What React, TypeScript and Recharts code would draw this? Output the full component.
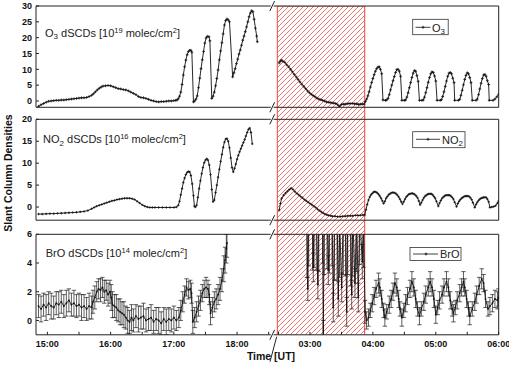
import React from 'react'
import { LineChart, Line, XAxis, YAxis, ErrorBar, AreaChart, Area, ReferenceLine } from 'recharts'

const PAGE_W = 509
const PAGE_H = 365
const FONT = 'Arial, "Liberation Sans", Helvetica, sans-serif'
const AXIS = '#222'
const HATCH = '#e8463f'

// plot frames (px)
const EVENING_COL = { left: 36, right: 268.7 }
const MORNING_COL = { left: 277.3, right: 498.7 }
const BANDS = [
  { top: 6, bottom: 107.3 },
  { top: 119.3, bottom: 220.2 },
  { top: 234.3, bottom: 334.8 },
]

// time axes, decimal hours UT
const eveningDomain = [14.82, 18.5]
const morningDomain = [2.48, 6.0]
const eveningTicks = [15, 15.5, 16, 16.5, 17, 17.5, 18, 18.5]
const morningTicks = [2.5, 3, 3.5, 4, 4.5, 5, 5.5, 6]
const blankedWindow = [2.48, 3.87]

const o3Domain = [-2, 30]
const o3Ticks = [0, 5, 10, 15, 20, 25, 30]
const no2Domain = [-3, 20]
const no2Ticks = [0, 5, 10, 15, 20]
const broDomain = [-1, 6]
const broTicks = [0, 2, 4, 6]

// O3 dSCDs [1e19 molec/cm2]
const o3EveningTime = [
  14.86, 14.9, 14.94, 14.98, 15.02, 15.06, 15.1, 15.14, 15.18, 15.22,
  15.26, 15.3, 15.34, 15.38, 15.42, 15.46, 15.5, 15.54, 15.58, 15.62,
  15.66, 15.7, 15.73, 15.76, 15.79, 15.82, 15.85, 15.88, 15.92, 15.96,
  16.0, 16.04, 16.08, 16.12, 16.16, 16.2, 16.24, 16.28, 16.32, 16.36,
  16.4, 16.44, 16.48, 16.52, 16.56, 16.6, 16.64, 16.68, 16.72, 16.76,
  16.8, 16.84, 16.88, 16.92, 16.96, 17.0, 17.03,
  17.05, 17.07, 17.09, 17.11, 17.13, 17.15, 17.17, 17.19, 17.21, 17.23,
  17.25, 17.27, 17.285, 17.31, 17.33, 17.35, 17.37, 17.39, 17.41, 17.43,
  17.45, 17.47, 17.49, 17.51, 17.53, 17.555, 17.57, 17.6, 17.62, 17.64,
  17.66, 17.68, 17.7, 17.72, 17.74, 17.76, 17.78, 17.8, 17.82, 17.84,
  17.86, 17.88, 17.93, 17.95, 17.97, 17.99, 18.01, 18.03, 18.05, 18.07,
  18.09, 18.11, 18.13, 18.15, 18.17, 18.19, 18.21, 18.23, 18.25, 18.27,
  18.29, 18.31, 18.32,
]
const o3EveningValue = [
  -1.7, -1.2, -0.8, -0.4, -0.1, 0.0, 0.1, 0.2, 0.2, 0.3,
  0.3, 0.4, 0.5, 0.6, 0.7, 0.8, 0.9, 1.0, 1.0, 1.1,
  1.4, 1.8, 2.3, 2.9, 3.5, 4.0, 4.4, 4.7, 4.8, 4.9,
  4.8, 4.5, 4.2, 3.9, 3.8, 3.6, 3.5, 3.2, 2.8, 2.4,
  2.0, 1.4, 1.1, 1.0, 0.8, 0.5, 0.2, 0.0, -0.2, -0.3,
  -0.2, -0.2, -0.1, 0.0, 0.0, 0.1, 0.2,
  0.3, 0.7, 1.5, 2.8, 5.2, 8.2, 10.8, 12.9, 14.6, 15.6,
  16.0, 16.0, 15.4, -0.3, 0.0, 0.6, 1.6, 4.2, 7.2, 10.2,
  13.0, 15.6, 18.3, 19.9, 20.4, 20.3, 19.0, 0.8, 1.5, 2.8,
  4.8, 7.1, 9.8, 13.0, 15.8, 18.4, 21.2, 24.0, 25.4, 25.9,
  25.6, 25.0, 7.6, 8.9, 10.2, 11.8, 13.2, 14.8, 16.1, 17.6,
  19.2, 20.5, 21.9, 23.4, 25.0, 26.6, 27.8, 28.5, 28.2, 25.8,
  23.0, 20.5, 18.7,
]
const o3MorningTime = [
  2.51, 2.53, 2.55, 2.57, 2.6, 2.63, 2.66, 2.69, 2.72, 2.75,
  2.78, 2.81, 2.84, 2.87, 2.9, 2.93, 2.96, 2.99, 3.02, 3.05,
  3.08, 3.11, 3.14, 3.17, 3.2, 3.23, 3.26, 3.29, 3.32, 3.35,
  3.38, 3.41, 3.44, 3.47, 3.5, 3.53, 3.56, 3.59, 3.62, 3.65,
  3.68, 3.71, 3.74, 3.77, 3.8, 3.83, 3.86,
  3.88, 3.9, 3.92, 3.94, 3.96, 3.98, 4.0, 4.02, 4.04, 4.06, 4.08, 4.1, 4.12, 4.14, 4.16, 4.2,
  4.22, 4.24, 4.26, 4.28, 4.3, 4.32, 4.34, 4.36, 4.38, 4.4, 4.42, 4.44, 4.46, 4.5,
  4.52, 4.54, 4.56, 4.58, 4.6, 4.62, 4.64, 4.66, 4.68, 4.7, 4.72, 4.74, 4.78,
  4.8, 4.82, 4.84, 4.86, 4.88, 4.9, 4.92, 4.94, 4.96, 4.98, 5.0, 5.02, 5.07,
  5.09, 5.11, 5.13, 5.15, 5.17, 5.19, 5.21, 5.23, 5.25, 5.27, 5.29, 5.3, 5.36,
  5.38, 5.4, 5.42, 5.44, 5.46, 5.48, 5.5, 5.52, 5.54, 5.56, 5.58, 5.64,
  5.66, 5.68, 5.7, 5.72, 5.74, 5.76, 5.78, 5.8, 5.82, 5.84, 5.85, 5.91,
  5.94, 5.97, 6.0,
]
const o3MorningValue = [
  12.0, 12.6, 12.9, 12.5, 12.2, 11.4, 10.8, 10.0, 9.2, 8.4,
  7.6, 6.8, 6.0, 5.3, 4.6, 3.9, 3.2, 2.6, 2.1, 1.7,
  1.3, 0.9, 0.6, 0.4, 0.2, 0.0, -0.3, -0.4, -0.5, -0.6,
  -0.7, -0.8, -1.2, -1.7, -1.1, -1.0, -1.0, -0.9, -0.8, -0.8,
  -0.8, -0.9, -0.9, -1.1, -1.0, -1.0, -1.0,
  -0.2, 0.6, 1.6, 2.9, 4.4, 5.8, 7.1, 8.3, 9.4, 10.2, 10.7, 10.8, 10.0, 8.6, 0.3, 0.2,
  0.3, 0.8, 2.0, 3.5, 5.0, 6.4, 7.7, 9.0, 9.9, 10.0, 9.4, 7.8, 0.2, 0.2,
  0.3, 1.2, 2.6, 4.2, 5.8, 7.4, 8.8, 9.6, 9.4, 8.0, 6.2, 0.2, 0.2,
  0.3, 1.2, 2.6, 4.2, 5.9, 7.4, 8.6, 9.2, 9.0, 7.9, 6.3, 0.2, 0.2,
  0.4, 1.4, 2.9, 4.6, 6.3, 7.8, 8.8, 9.0, 8.6, 7.2, 5.8, 0.2, 0.2,
  0.5, 1.8, 3.4, 5.1, 6.8, 8.1, 8.9, 8.6, 7.4, 5.8, 0.2, 0.2,
  0.6, 2.0, 3.8, 5.6, 7.1, 8.2, 8.4, 7.8, 6.4, 5.2, 0.2, 0.2,
  0.6, 1.3, 2.1,
]

// NO2 dSCDs [1e16 molec/cm2]
const no2EveningTime = [
  14.86, 14.92, 14.98, 15.04, 15.1, 15.16, 15.22, 15.28, 15.34, 15.4,
  15.46, 15.52, 15.58, 15.64, 15.7, 15.74, 15.78, 15.82, 15.86, 15.9,
  15.94, 15.98, 16.02, 16.06, 16.1, 16.14, 16.18, 16.22, 16.26, 16.3,
  16.34, 16.38, 16.42, 16.46, 16.5, 16.54, 16.58, 16.62, 16.66, 16.7,
  16.76, 16.82, 16.88, 16.94, 17.0, 17.04, 17.07, 17.09, 17.11, 17.13,
  17.15, 17.17, 17.19, 17.21, 17.23, 17.25, 17.27, 17.29, 17.31, 17.325,
  17.34, 17.36, 17.38, 17.4, 17.42, 17.44, 17.46, 17.48, 17.5, 17.52,
  17.54, 17.56, 17.58, 17.6, 17.62, 17.64, 17.66, 17.68, 17.7, 17.72,
  17.74, 17.76, 17.78, 17.8, 17.82, 17.84, 17.86, 17.88, 17.9, 17.92,
  17.94, 17.96, 17.98, 18.0, 18.02, 18.04, 18.06, 18.08, 18.1, 18.12,
  18.14, 18.16, 18.18, 18.2, 18.22, 18.24,
]
const no2EveningValue = [
  -1.6, -1.6, -1.55, -1.5, -1.5, -1.45, -1.4, -1.35, -1.3, -1.25,
  -1.2, -1.1, -1.0, -0.8, -0.4, -0.1, 0.2, 0.4, 0.6, 0.8,
  1.0, 1.2, 1.4, 1.5, 1.7, 1.8, 1.9, 2.0, 2.0, 2.0,
  1.9, 1.7, 1.3, 0.9, 0.5, 0.2, 0.0, -0.1, -0.1, -0.1,
  -0.1, -0.1, -0.1, -0.1, -0.1, 0.0, 0.4, 1.3, 2.8, 4.2,
  5.6, 6.6, 7.4, 7.9, 8.1, 8.0, 7.2, 5.3, 2.6, 0.2,
  0.0, 0.4, 2.2, 4.2, 6.0, 7.6, 9.0, 10.1, 10.7, 11.0,
  10.7, 9.6, 7.4, 4.0, 1.2, 1.6, 3.3, 5.0, 6.8, 8.6,
  10.4, 12.0, 13.6, 14.8, 15.5, 15.6, 15.0, 13.5, 11.2, 9.0,
  8.0, 8.8, 9.8, 10.9, 11.8, 12.6, 13.3, 14.0, 14.7, 15.4,
  16.2, 17.0, 17.7, 18.0, 17.0, 14.4,
]
const no2MorningTime = [
  2.51, 2.53, 2.55, 2.58, 2.61, 2.64, 2.67, 2.7, 2.73, 2.76,
  2.79, 2.82, 2.85, 2.88, 2.91, 2.94, 2.97, 3.0, 3.03, 3.06,
  3.09, 3.12, 3.15, 3.18, 3.21, 3.24, 3.27, 3.3, 3.33, 3.36,
  3.4, 3.44, 3.48, 3.52, 3.56, 3.6, 3.64, 3.68, 3.72, 3.76,
  3.8, 3.84, 3.87,
  3.89, 3.91, 3.93, 3.95, 3.97, 3.99, 4.01, 4.03, 4.05, 4.07, 4.09, 4.11, 4.13, 4.15, 4.17,
  4.19, 4.21, 4.23, 4.25, 4.27, 4.29, 4.31, 4.33, 4.35, 4.37, 4.39, 4.41, 4.43, 4.45, 4.47,
  4.49, 4.51, 4.53, 4.55, 4.57, 4.59, 4.61, 4.63, 4.65, 4.67, 4.69, 4.71, 4.73, 4.75,
  4.77, 4.79, 4.81, 4.83, 4.85, 4.87, 4.89, 4.91, 4.93, 4.95, 4.97, 4.99, 5.01, 5.04,
  5.06, 5.08, 5.1, 5.12, 5.14, 5.16, 5.18, 5.2, 5.22, 5.24, 5.26, 5.28, 5.3, 5.33,
  5.35, 5.37, 5.39, 5.41, 5.43, 5.45, 5.47, 5.49, 5.51, 5.53, 5.55, 5.57, 5.59, 5.62,
  5.64, 5.66, 5.68, 5.7, 5.72, 5.74, 5.76, 5.78, 5.8, 5.82, 5.84, 5.86,
  5.89, 5.92, 5.95, 5.98, 6.0,
]
const no2MorningValue = [
  -0.7, 0.8, 2.0, 2.7, 3.2, 3.6, 4.0, 4.3, 4.0, 3.5,
  3.1, 2.8, 2.4, 2.1, 1.7, 1.4, 1.1, 0.8, 0.5, 0.2,
  -0.1, -0.5, -0.8, -1.1, -1.4, -1.6, -1.8, -1.9, -2.0, -2.1,
  -2.1, -2.2, -2.2, -2.1, -2.1, -2.0, -2.0, -2.0, -1.9, -1.9,
  -1.9, -1.8, -1.8,
  -0.6, 0.6, 1.6, 2.3, 2.8, 3.1, 3.4, 3.5, 3.4, 3.2, 2.9, 2.5, 2.0, 1.4, 0.8,
  1.3, 2.0, 2.4, 2.8, 3.0, 3.2, 3.3, 3.3, 3.2, 3.0, 2.7, 2.3, 1.8, 1.2, 0.7,
  1.2, 1.8, 2.3, 2.6, 2.9, 3.0, 3.1, 3.1, 3.0, 2.8, 2.5, 2.1, 1.4, 0.5,
  1.0, 1.6, 2.1, 2.5, 2.7, 2.9, 3.0, 3.0, 3.0, 2.8, 2.4, 2.0, 1.3, 0.2,
  0.9, 1.5, 2.0, 2.3, 2.5, 2.7, 2.7, 2.7, 2.7, 2.5, 2.2, 1.8, 1.1, 0.1,
  0.8, 1.3, 1.7, 2.0, 2.2, 2.4, 2.5, 2.5, 2.5, 2.4, 2.1, 1.7, 1.0, -0.1,
  0.6, 1.1, 1.5, 1.8, 2.0, 2.1, 2.2, 2.2, 2.2, 1.8, 1.2, -0.1,
  0.0, 0.1, 0.3, 0.9, 1.4,
]

// BrO dSCDs [1e14 molec/cm2] with fit errors
const broEveningTime = [
  14.86, 14.9, 14.94, 14.98, 15.02, 15.06, 15.1, 15.14, 15.18, 15.22,
  15.26, 15.3, 15.34, 15.38, 15.42, 15.46, 15.5, 15.54, 15.58, 15.62,
  15.66, 15.7, 15.72, 15.75, 15.78, 15.81, 15.84, 15.87, 15.9, 15.93,
  15.96, 15.99, 16.01, 16.03, 16.06, 16.09, 16.12, 16.15, 16.18, 16.21,
  16.24, 16.27, 16.3, 16.33, 16.36, 16.4, 16.44, 16.48, 16.52, 16.56,
  16.6, 16.64, 16.68, 16.72, 16.76, 16.8, 16.84, 16.88, 16.92, 16.96,
  17.0, 17.04, 17.08, 17.11, 17.14, 17.17, 17.2, 17.23, 17.26, 17.28,
  17.3, 17.33, 17.36, 17.39, 17.42, 17.45, 17.48, 17.51, 17.54, 17.56,
  17.58, 17.61, 17.64, 17.67, 17.7, 17.73, 17.76, 17.79, 17.81, 17.83,
  17.84,
]
const broEveningValue = [
  1.0, 0.8, 1.1, 0.9, 1.2, 1.0, 0.9, 1.2, 1.1, 1.3,
  1.0, 1.2, 1.4, 1.1, 1.2, 1.0, 1.1, 0.9, 1.0, 0.8,
  1.0, 0.9, 1.3, 1.6, 2.0, 2.2, 2.1, 2.3, 2.0, 2.1,
  1.8, 2.0, 1.6, 1.1, 1.0, 0.9, 0.7, 0.6, 0.5, 0.4,
  0.2, 0.0, -0.1, 0.2, 0.0, 0.3, 0.1, 0.2, 0.3, 0.0,
  0.1, 0.2, -0.1, 0.1, 0.0, -0.2, 0.1, -0.1, 0.1, 0.0,
  0.2, 0.0, 0.2, 0.7, 1.3, 1.8, 2.3, 2.1, 2.2, 1.9,
  -0.1, 0.2, 0.6, 1.0, 1.4, 1.9, 2.2, 2.3, 2.2, 1.8,
  0.5, 0.9, 1.3, 1.5, 1.8, 2.2, 2.8, 3.6, 4.2, 5.0,
  5.4,
]
const broEveningError = [
  0.8, 0.9, 0.8, 0.9, 0.8, 0.9, 0.8, 0.8, 0.9, 0.8,
  0.8, 0.9, 0.8, 0.8, 0.9, 0.8, 0.8, 0.9, 0.8, 0.8,
  0.9, 0.8, 0.8, 0.8, 0.7, 0.7, 0.8, 0.7, 0.8, 0.7,
  0.8, 0.8, 0.9, 0.9, 0.8, 0.9, 0.8, 0.9, 0.8, 0.9,
  0.8, 0.9, 0.8, 0.9, 0.8, 0.8, 0.9, 0.8, 0.9, 0.8,
  0.8, 0.9, 0.8, 0.8, 0.9, 0.8, 0.8, 0.9, 0.8, 0.8,
  0.8, 0.7, 0.7, 0.7, 0.7, 0.6, 0.6, 0.6, 0.6, 0.7,
  0.8, 0.7, 0.7, 0.7, 0.7, 0.6, 0.6, 0.7, 0.6, 0.7,
  0.8, 0.7, 0.7, 0.7, 0.7, 0.8, 0.8, 0.9, 0.9, 1.0,
  1.0,
]
const broMorningTime = [
  2.95, 2.965, 2.98, 3.04, 3.052, 3.065, 3.1, 3.125, 3.14, 3.2,
  3.211, 3.225, 3.27, 3.291, 3.31, 3.35, 3.37, 3.39, 3.43, 3.45,
  3.47, 3.504, 3.53, 3.565, 3.583, 3.6, 3.645, 3.663, 3.68, 3.715,
  3.74, 3.768, 3.79, 3.831, 3.85, 3.875,
  3.9, 3.93, 3.96, 3.99, 4.02, 4.05, 4.09, 4.11, 4.14, 4.17,
  4.19, 4.22, 4.26, 4.29, 4.32, 4.35, 4.38, 4.41, 4.43, 4.46,
  4.49, 4.52, 4.55, 4.59, 4.62, 4.65, 4.68, 4.71, 4.74, 4.77,
  4.81, 4.84, 4.88, 4.91, 4.94, 4.97, 5.0, 5.03, 5.06, 5.1,
  5.13, 5.17, 5.2, 5.23, 5.26, 5.28, 5.31, 5.34, 5.38, 5.41,
  5.44, 5.46, 5.49, 5.52, 5.54, 5.58, 5.62, 5.65, 5.69, 5.73,
  5.76, 5.79, 5.83, 5.86, 5.9, 5.94, 5.98, 5.995,
]
const broMorningValue = [
  7.5, 2.2, 7.8, 7.0, 3.7, 7.5, 8.0, 2.5, 7.6, 7.0,
  -1.5, 7.2, 8.0, 3.5, 7.5, 7.8, 0.9, 7.4, 7.6, 1.5,
  7.0, 2.3, 7.7, 7.3, 0.6, 7.8, 7.2, 1.8, 7.5, 2.6,
  7.4, 1.6, 7.5, 4.1, 7.2, 0.6,
  0.0, 0.2, 0.7, 1.2, 1.7, 2.2, 2.6, 2.3, 1.5, 0.7,
  0.2, 0.6, 1.1, 1.5, 2.0, 2.6, 2.3, 1.5, 0.8, 0.2,
  0.7, 1.2, 1.7, 2.2, 2.7, 2.3, 1.5, 0.8, 0.3, 0.8,
  1.3, 1.8, 2.3, 2.7, 2.3, 1.5, 0.4, 0.9, 1.4, 1.8,
  2.3, 2.7, 2.3, 1.4, 0.8, 0.5, 0.9, 1.4, 1.9, 2.3,
  2.7, 2.3, 1.5, 0.8, 0.3, 0.8, 1.3, 1.8, 2.4, 2.9,
  2.6, 1.5, 0.8, 1.0, 1.2, 1.5, 1.4, 1.6,
]
const broMorningError = [
  4.5, 0.8, 4.0, 3.5, 1.0, 3.8, 4.5, 1.0, 4.2, 3.0,
  1.5, 4.0, 4.4, 1.0, 4.2, 4.0, 1.0, 4.6, 4.8, 1.2,
  4.0, 1.0, 4.5, 4.2, 1.0, 4.6, 4.8, 1.0, 4.4, 1.0,
  4.0, 1.0, 3.6, 1.2, 3.5, 0.8,
  0.6, 0.6, 0.5, 0.6, 0.6, 0.6, 0.7, 0.6, 0.6, 0.5,
  0.6, 0.5, 0.6, 0.6, 0.6, 0.7, 0.6, 0.6, 0.5, 0.6,
  0.5, 0.6, 0.6, 0.6, 0.7, 0.6, 0.6, 0.5, 0.6, 0.5,
  0.6, 0.6, 0.6, 0.7, 0.6, 0.6, 0.6, 0.5, 0.6, 0.6,
  0.6, 0.7, 0.6, 0.6, 0.5, 0.6, 0.5, 0.6, 0.6, 0.6,
  0.7, 0.6, 0.6, 0.5, 0.6, 0.5, 0.6, 0.6, 0.6, 0.7,
  0.6, 0.6, 0.5, 0.6, 0.6, 0.6, 0.6, 0.6,
]

type Row = { t: number; v: number; e?: number }
const rows = (time: number[], value: number[], err?: number[]): Row[] =>
  time.map((t, i) => ({ t, v: value[i], e: err ? err[i] : undefined }))

const clock = (h: number) =>
  Number.isInteger(h) ? `${String(h).padStart(2, '0')}:00` : ''

const tickFont = { fontSize: 9, fontWeight: 700, fill: '#111', fontFamily: FONT }

// small "+" marker used by all series
const plus = (size: number) => (p: any) => {
  const { cx, cy, index } = p
  if (cx == null || cy == null) return <g key={index} />
  return (
    <path
      key={index}
      d={`M${cx - size},${cy}h${size * 2}M${cx},${cy - size}v${size * 2}`}
      stroke="#111"
      strokeWidth={0.8}
      fill="none"
    />
  )
}

type Col = { left: number; right: number }
type Band = { top: number; bottom: number }

type PanelProps = {
  col: Col
  band: Band
  xDomain: number[]
  xTicks: number[]
  yDomain: number[]
  yTicks: number[]
  side: 'left' | 'right'
  showTime: boolean
  data: Row[]
  withErrors?: boolean
  markerSize: number
}

const layer: React.CSSProperties = { position: 'absolute', left: 0, top: 0, width: PAGE_W, height: PAGE_H }

function Panel(props: PanelProps) {
  const { col, band, xDomain, xTicks, yDomain, yTicks, side, showTime, data, withErrors, markerSize } = props
  // axes take 1px each, so the margins stop 1px short of the plot frame
  const frameMargin = {
    top: band.top - 1,
    bottom: PAGE_H - band.bottom - 1,
    left: side === 'left' ? col.left - 1 : col.left,
    right: side === 'right' ? PAGE_W - col.right - 1 : PAGE_W - col.right,
  }
  const plotMargin = {
    top: band.top,
    bottom: PAGE_H - band.bottom,
    left: col.left,
    right: PAGE_W - col.right,
  }
  const clip = `inset(${band.top}px ${PAGE_W - col.right}px ${PAGE_H - band.bottom}px ${col.left}px)`
  return (
    <>
      {/* frame: axis lines, inward ticks and labels */}
      <div style={layer}>
        <LineChart width={PAGE_W} height={PAGE_H} data={data} margin={frameMargin}>
          <XAxis
            dataKey="t"
            type="number"
            domain={xDomain}
            ticks={xTicks}
            interval={0}
            allowDataOverflow
            height={1}
            stroke={AXIS}
            tickSize={-3}
            tickMargin={9}
            tick={showTime ? tickFont : false}
            tickFormatter={clock}
          />
          <XAxis
            xAxisId="top"
            orientation="top"
            dataKey="t"
            type="number"
            domain={xDomain}
            ticks={xTicks}
            interval={0}
            allowDataOverflow
            height={1}
            stroke={AXIS}
            tickSize={-3}
            tick={false}
          />
          <YAxis
            type="number"
            orientation={side}
            domain={yDomain}
            ticks={yTicks}
            interval={0}
            allowDataOverflow
            width={1}
            stroke={AXIS}
            tickSize={-3}
            tickMargin={7}
            tick={side === 'left' ? tickFont : false}
          />
          <Line dataKey="v" stroke="none" dot={false} isAnimationActive={false} />
        </LineChart>
      </div>
      {/* series, clipped to the plot frame */}
      <div style={{ ...layer, clipPath: clip }}>
        <LineChart width={PAGE_W} height={PAGE_H} data={data} margin={plotMargin}>
          <XAxis dataKey="t" type="number" domain={xDomain} allowDataOverflow hide />
          <YAxis type="number" domain={yDomain} allowDataOverflow hide />
          <Line
            dataKey="v"
            type="linear"
            stroke="#111"
            strokeWidth={0.9}
            dot={plus(markerSize)}
            isAnimationActive={false}
          >
            {withErrors && (
              <ErrorBar
                dataKey="e"
                direction="y"
                width={2.2}
                stroke="#1c1c1c"
                strokeWidth={0.7}
                isAnimationActive={false}
              />
            )}
          </Line>
        </LineChart>
      </div>
    </>
  )
}

const blankedRows = blankedWindow.map((t) => ({ t, y: 1 }))

// hatched window spanning all three morning panels
function BlankedWindow() {
  return (
    <div style={layer}>
      <AreaChart
        width={PAGE_W}
        height={PAGE_H}
        data={blankedRows}
        margin={{
          top: BANDS[0].top,
          bottom: PAGE_H - BANDS[2].bottom,
          left: MORNING_COL.left,
          right: PAGE_W - MORNING_COL.right,
        }}
      >
        <XAxis dataKey="t" type="number" domain={morningDomain} allowDataOverflow hide />
        <YAxis type="number" domain={[0, 1]} allowDataOverflow hide />
        <Area
          dataKey="y"
          type="linear"
          baseValue={0}
          fill="url(#hatch)"
          fillOpacity={1}
          stroke={HATCH}
          strokeWidth={1}
          isAnimationActive={false}
        />
        <ReferenceLine x={blankedWindow[0]} stroke={HATCH} strokeWidth={1} />
        <ReferenceLine x={blankedWindow[1]} stroke={HATCH} strokeWidth={1} />
      </AreaChart>
    </div>
  )
}

function Sub({ children }: { children: string }) {
  return <tspan dy={2.5} fontSize={8}>{children}</tspan>
}

function Decorations() {
  const axisYs = BANDS.flatMap((b) => [b.top, b.bottom])
  return (
    <svg
      width={PAGE_W}
      height={PAGE_H}
      style={{ position: 'absolute', left: 0, top: 0, pointerEvents: 'none' }}
      fontFamily={FONT}
    >
      <defs>
        <pattern id="hatch" patternUnits="userSpaceOnUse" width={5} height={5}>
          <path d="M-1,1 l2,-2 M0,5 l5,-5 M4,6 l2,-2" stroke={HATCH} strokeWidth={0.75} />
        </pattern>
      </defs>

      {/* axis breaks between evening and morning */}
      {axisYs.map((y) => (
        <g key={y} stroke={AXIS} strokeWidth={1}>
          <line x1={268.7} y1={y} x2={270.8} y2={y} />
          <line x1={273.6} y1={y} x2={277.3} y2={y} />
          <line x1={269.8} y1={y + 5} x2={274.6} y2={y - 5} />
        </g>
      ))}
      <line x1={276.7} y1={336.7} x2={270} y2={361.7} stroke={AXIS} strokeWidth={1} />

      {/* panel titles */}
      <text x={45} y={36.5} fontSize={11} fill="#222">
        O<Sub>3</Sub>
        <tspan dy={-2.5}>{' dSCDs [10'}</tspan>
        <tspan dy={-4} fontSize={7.5}>19</tspan>
        <tspan dy={4}>{' molec/cm'}</tspan>
        <tspan dy={-4} fontSize={7.5}>2</tspan>
        <tspan dy={4}>]</tspan>
      </text>
      <text x={43} y={143} fontSize={11} fill="#222">
        NO<Sub>2</Sub>
        <tspan dy={-2.5}>{' dSCDs [10'}</tspan>
        <tspan dy={-4} fontSize={7.5}>16</tspan>
        <tspan dy={4}>{' molec/cm'}</tspan>
        <tspan dy={-4} fontSize={7.5}>2</tspan>
        <tspan dy={4}>]</tspan>
      </text>
      <text x={45.7} y={257} fontSize={11} fill="#222">
        {'BrO dSCDs [10'}
        <tspan dy={-4} fontSize={7.5}>14</tspan>
        <tspan dy={4}>{' molec/cm'}</tspan>
        <tspan dy={-4} fontSize={7.5}>2</tspan>
        <tspan dy={4}>]</tspan>
      </text>

      {/* legends */}
      <g stroke="#333" strokeWidth={0.8} fill="#fff">
        <rect x={412.7} y={19.3} width={35.5} height={15.4} />
        <rect x={412.7} y={131.7} width={52.3} height={16} />
        <rect x={410} y={247.5} width={51} height={13} />
      </g>
      <g stroke="#111" strokeWidth={0.8}>
        <line x1={415.5} y1={27.3} x2={430.5} y2={27.3} />
        <path d="M421.5,27.3h3M423,25.8v3" />
        <line x1={416} y1={139.3} x2={440} y2={139.3} />
        <path d="M426.5,139.3h3M428,137.8v3" />
        <line x1={413} y1={254} x2={438} y2={254} />
        <path d="M424.5,254h3M426,252.5v3" />
      </g>
      <text x={432} y={31.7} fontSize={11} fill="#222">
        O<Sub>3</Sub>
      </text>
      <text x={442} y={143.5} fontSize={11} fill="#222">
        NO<Sub>2</Sub>
      </text>
      <text x={440} y={258} fontSize={11} fill="#222">
        BrO
      </text>

      {/* axis titles */}
      <text
        x={12}
        y={173}
        fontSize={10.5}
        fontWeight={700}
        fill="#111"
        textAnchor="middle"
        transform="rotate(-90 12 173)"
      >
        Slant Column Densities
      </text>
      <text x={271} y={360} fontSize={10.5} fontWeight={700} fill="#111" textAnchor="middle">
        Time [UT]
      </text>
    </svg>
  )
}

export default function App() {
  const evening = { col: EVENING_COL, xDomain: eveningDomain, xTicks: eveningTicks, side: 'left' as const }
  const morning = { col: MORNING_COL, xDomain: morningDomain, xTicks: morningTicks, side: 'right' as const }
  return (
    <div style={{ ...layer, background: '#fff', overflow: 'hidden', fontFamily: FONT }}>
      <BlankedWindow />
      <Panel {...evening} band={BANDS[0]} yDomain={o3Domain} yTicks={o3Ticks} showTime={false}
        data={rows(o3EveningTime, o3EveningValue)} markerSize={1.4} />
      <Panel {...morning} band={BANDS[0]} yDomain={o3Domain} yTicks={o3Ticks} showTime={false}
        data={rows(o3MorningTime, o3MorningValue)} markerSize={1.4} />
      <Panel {...evening} band={BANDS[1]} yDomain={no2Domain} yTicks={no2Ticks} showTime={false}
        data={rows(no2EveningTime, no2EveningValue)} markerSize={1.2} />
      <Panel {...morning} band={BANDS[1]} yDomain={no2Domain} yTicks={no2Ticks} showTime={false}
        data={rows(no2MorningTime, no2MorningValue)} markerSize={1.2} />
      <Panel {...evening} band={BANDS[2]} yDomain={broDomain} yTicks={broTicks} showTime
        data={rows(broEveningTime, broEveningValue, broEveningError)} withErrors markerSize={1} />
      <Panel {...morning} band={BANDS[2]} yDomain={broDomain} yTicks={broTicks} showTime
        data={rows(broMorningTime, broMorningValue, broMorningError)} withErrors markerSize={1} />
      <Decorations />
    </div>
  )
}
